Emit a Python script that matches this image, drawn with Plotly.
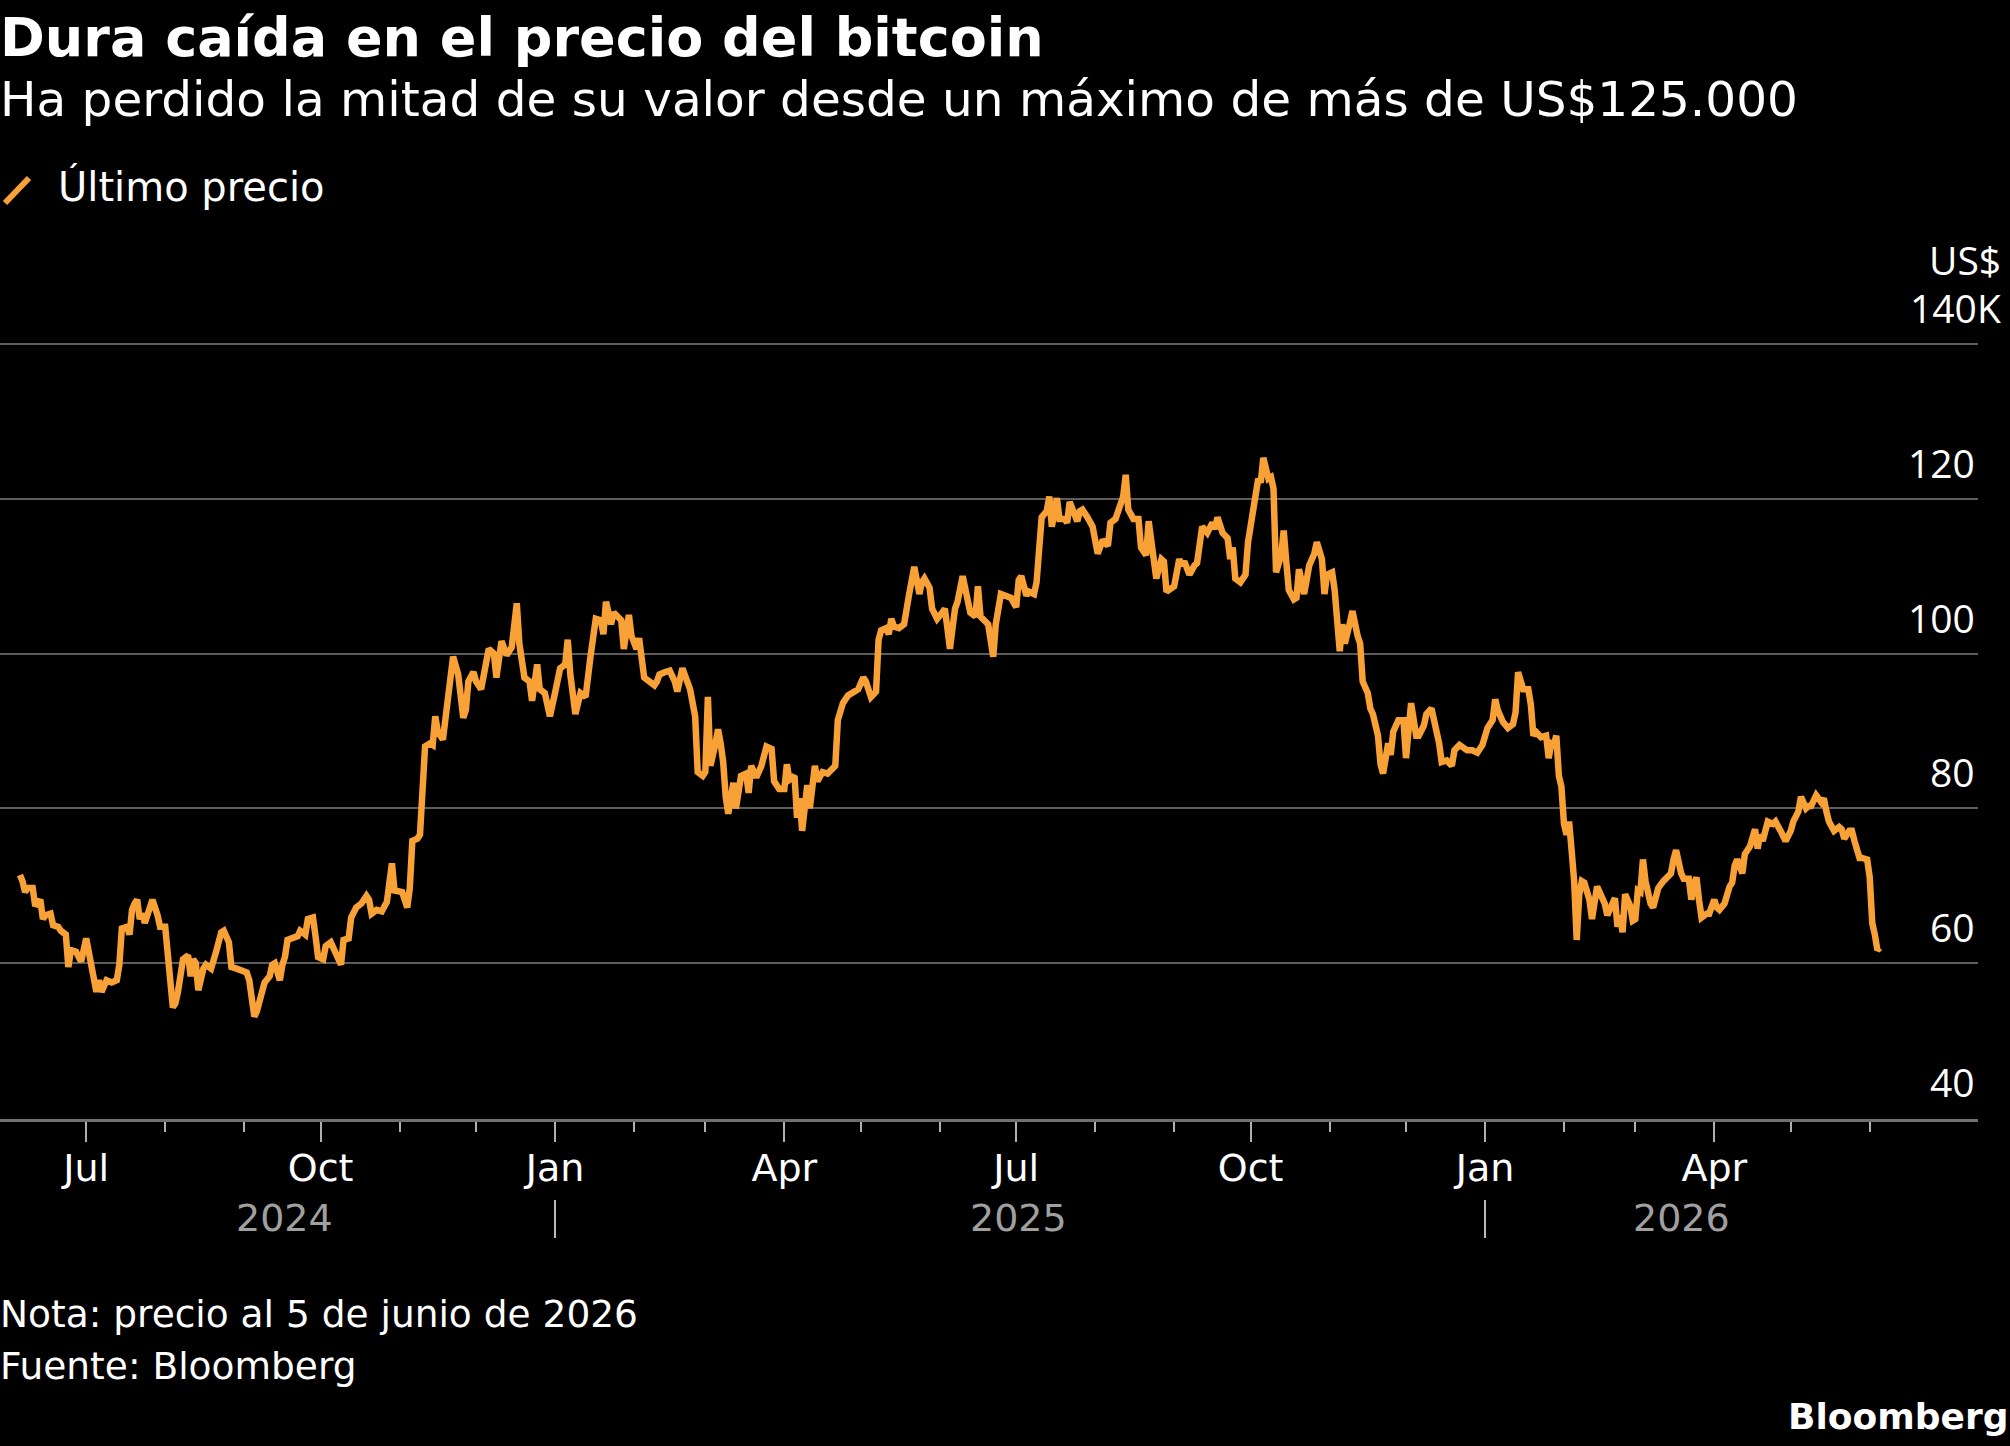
import plotly.graph_objects as go
from datetime import date

# ---------------- data (bitcoin last price, thousand US$) ----------------
dates_2024 = [
    "2024-06-05", "2024-06-06", "2024-06-07", "2024-06-08", "2024-06-10", "2024-06-11", "2024-06-13", "2024-06-14",
    "2024-06-15", "2024-06-17", "2024-06-18", "2024-06-20", "2024-06-21", "2024-06-23", "2024-06-24", "2024-06-25",
    "2024-06-27", "2024-06-29", "2024-07-01", "2024-07-03", "2024-07-05", "2024-07-06", "2024-07-07", "2024-07-09",
    "2024-07-11", "2024-07-13", "2024-07-14", "2024-07-15", "2024-07-17", "2024-07-18", "2024-07-19", "2024-07-20",
    "2024-07-21", "2024-07-22", "2024-07-23", "2024-07-24", "2024-07-26", "2024-07-27", "2024-07-29", "2024-07-30",
    "2024-08-01", "2024-08-02", "2024-08-03", "2024-08-04", "2024-08-05", "2024-08-06", "2024-08-08", "2024-08-10",
    "2024-08-11", "2024-08-12", "2024-08-13", "2024-08-14", "2024-08-16", "2024-08-17", "2024-08-19", "2024-08-20",
    "2024-08-21", "2024-08-23", "2024-08-24", "2024-08-26", "2024-08-27", "2024-08-29", "2024-08-31", "2024-09-02",
    "2024-09-03", "2024-09-04", "2024-09-05", "2024-09-06", "2024-09-08", "2024-09-09", "2024-09-11", "2024-09-12",
    "2024-09-13", "2024-09-15", "2024-09-16", "2024-09-17", "2024-09-18", "2024-09-20", "2024-09-22", "2024-09-23",
    "2024-09-25", "2024-09-26", "2024-09-28", "2024-09-29", "2024-09-30", "2024-10-02", "2024-10-03", "2024-10-05",
    "2024-10-06", "2024-10-08", "2024-10-09", "2024-10-10", "2024-10-12", "2024-10-13", "2024-10-15", "2024-10-17",
    "2024-10-19", "2024-10-20", "2024-10-21", "2024-10-23", "2024-10-25", "2024-10-27", "2024-10-28", "2024-10-29",
    "2024-10-30", "2024-11-02", "2024-11-04", "2024-11-05", "2024-11-06", "2024-11-08", "2024-11-09", "2024-11-10",
    "2024-11-11", "2024-11-13", "2024-11-14", "2024-11-15", "2024-11-16", "2024-11-18", "2024-11-19", "2024-11-20",
    "2024-11-22", "2024-11-24", "2024-11-26", "2024-11-27", "2024-11-28", "2024-11-30", "2024-12-01", "2024-12-03",
    "2024-12-04", "2024-12-06", "2024-12-08", "2024-12-09", "2024-12-11", "2024-12-13", "2024-12-15", "2024-12-16",
    "2024-12-17", "2024-12-18", "2024-12-20", "2024-12-22", "2024-12-23", "2024-12-25", "2024-12-26", "2024-12-28",
    "2024-12-30",
]
prices_2024 = [
    71.4, 70.6, 69.2, 69.7, 69.7, 67.4, 68.2, 65.7,
    66.2, 66.4, 64.9, 64.7, 64.2, 63.7, 59.5, 61.7,
    61.5, 60.2, 63.2, 59.3, 56.3, 57.8, 56.3, 57.8,
    57.5, 57.8, 59.8, 64.5, 64.7, 63.7, 66.9, 67.7,
    68.2, 65.7, 66.4, 65.2, 67.7, 68.2, 66.2, 64.7,
    64.7, 61.7, 58.8, 54.3, 54.8, 56.3, 60.5, 61.0,
    58.3, 60.5, 60.0, 56.5, 59.3, 59.8, 59.3, 60.2,
    61.5, 64.0, 64.2, 62.7, 59.5, 59.3, 59.0, 58.8,
    57.8, 55.8, 53.1, 53.8, 56.8, 57.5, 58.3, 59.8,
    60.0, 57.8, 59.8, 60.8, 63.0, 63.2, 63.5, 64.2,
    63.7, 65.7, 65.9, 63.5, 60.8, 60.5, 62.2, 62.7,
    62.0, 60.8, 59.8, 63.0, 63.2, 65.9, 67.2, 67.7,
    68.7, 68.2, 66.4, 66.9, 66.7, 67.9, 71.4, 72.9,
    69.4, 69.2, 67.2, 69.7, 75.8, 76.1, 76.6, 81.5,
    88.0, 88.4, 88.2, 91.9, 89.9, 88.9, 91.4, 94.4,
    99.6, 97.3, 91.7, 92.7, 96.4, 97.6, 96.4, 95.4,
    96.9, 100.6, 100.0, 96.9, 101.6, 99.8, 100.8, 103.3,
    106.5, 101.3, 96.9, 96.4, 93.9, 98.6, 95.4, 94.9,
    91.9,
]

dates_2025 = [
    "2025-01-01", "2025-01-03", "2025-01-05", "2025-01-06", "2025-01-07", "2025-01-09", "2025-01-11", "2025-01-13",
    "2025-01-15", "2025-01-17", "2025-01-19", "2025-01-20", "2025-01-21", "2025-01-23", "2025-01-24", "2025-01-25",
    "2025-01-27", "2025-01-28", "2025-01-29", "2025-01-30", "2025-01-31", "2025-02-02", "2025-02-03", "2025-02-05",
    "2025-02-07", "2025-02-09", "2025-02-10", "2025-02-11", "2025-02-13", "2025-02-15", "2025-02-17", "2025-02-18",
    "2025-02-20", "2025-02-22", "2025-02-23", "2025-02-25", "2025-02-26", "2025-02-28", "2025-03-01", "2025-03-02",
    "2025-03-03", "2025-03-05", "2025-03-06", "2025-03-07", "2025-03-08", "2025-03-09", "2025-03-10", "2025-03-12",
    "2025-03-13", "2025-03-15", "2025-03-17", "2025-03-18", "2025-03-19", "2025-03-21", "2025-03-23", "2025-03-25",
    "2025-03-27", "2025-03-28", "2025-03-30", "2025-04-01", "2025-04-02", "2025-04-03", "2025-04-05", "2025-04-06",
    "2025-04-07", "2025-04-08", "2025-04-10", "2025-04-11", "2025-04-13", "2025-04-14", "2025-04-16", "2025-04-18",
    "2025-04-20", "2025-04-21", "2025-04-22", "2025-04-24", "2025-04-26", "2025-04-28", "2025-04-30", "2025-05-02",
    "2025-05-03", "2025-05-05", "2025-05-07", "2025-05-08", "2025-05-09", "2025-05-11", "2025-05-12", "2025-05-13",
    "2025-05-14", "2025-05-16", "2025-05-18", "2025-05-20", "2025-05-22", "2025-05-24", "2025-05-25", "2025-05-26",
    "2025-05-28", "2025-05-29", "2025-05-31", "2025-06-02", "2025-06-03", "2025-06-04", "2025-06-05", "2025-06-07",
    "2025-06-08", "2025-06-10", "2025-06-11", "2025-06-13", "2025-06-15", "2025-06-16", "2025-06-17", "2025-06-19",
    "2025-06-20", "2025-06-22", "2025-06-23", "2025-06-25", "2025-06-27", "2025-06-29", "2025-07-01", "2025-07-02",
    "2025-07-03", "2025-07-05", "2025-07-06", "2025-07-08", "2025-07-09", "2025-07-11", "2025-07-13", "2025-07-14",
    "2025-07-15", "2025-07-17", "2025-07-18", "2025-07-20", "2025-07-21", "2025-07-22", "2025-07-24", "2025-07-25",
    "2025-07-26", "2025-07-27", "2025-07-29", "2025-07-31", "2025-08-02", "2025-08-04", "2025-08-06", "2025-08-07",
    "2025-08-09", "2025-08-11", "2025-08-12", "2025-08-13", "2025-08-14", "2025-08-16", "2025-08-18", "2025-08-19",
    "2025-08-21", "2025-08-22", "2025-08-24", "2025-08-25", "2025-08-27", "2025-08-28", "2025-08-29", "2025-08-31",
    "2025-09-01", "2025-09-03", "2025-09-04", "2025-09-05", "2025-09-07", "2025-09-09", "2025-09-10", "2025-09-12",
    "2025-09-14", "2025-09-16", "2025-09-17", "2025-09-18", "2025-09-20", "2025-09-22", "2025-09-23", "2025-09-24",
    "2025-09-25", "2025-09-27", "2025-09-29", "2025-09-30", "2025-10-02", "2025-10-04", "2025-10-05", "2025-10-06",
    "2025-10-08", "2025-10-09", "2025-10-10", "2025-10-11", "2025-10-13", "2025-10-14", "2025-10-15", "2025-10-16",
    "2025-10-18", "2025-10-19", "2025-10-20", "2025-10-22", "2025-10-23", "2025-10-24", "2025-10-26", "2025-10-27",
    "2025-10-29", "2025-10-30", "2025-10-31", "2025-11-02", "2025-11-03", "2025-11-04", "2025-11-05", "2025-11-06",
    "2025-11-07", "2025-11-09", "2025-11-10", "2025-11-12", "2025-11-13", "2025-11-14", "2025-11-16", "2025-11-17",
    "2025-11-18", "2025-11-20", "2025-11-21", "2025-11-22", "2025-11-24", "2025-11-25", "2025-11-26", "2025-11-28",
    "2025-11-30", "2025-12-01", "2025-12-02", "2025-12-03", "2025-12-05", "2025-12-06", "2025-12-08", "2025-12-09",
    "2025-12-11", "2025-12-13", "2025-12-14", "2025-12-15", "2025-12-17", "2025-12-19", "2025-12-20", "2025-12-22",
    "2025-12-23", "2025-12-25", "2025-12-27", "2025-12-29", "2025-12-31",
]
prices_2025 = [
    94.9, 98.1, 98.6, 101.8, 97.3, 92.2, 94.9, 94.4,
    99.8, 104.5, 104.3, 102.5, 106.7, 103.8, 105.3, 105.0,
    104.3, 100.6, 102.8, 105.0, 102.3, 100.6, 102.0, 96.9,
    96.4, 95.9, 96.4, 97.3, 97.6, 97.8, 96.4, 95.1,
    98.1, 96.4, 95.4, 91.9, 84.7, 84.2, 84.7, 94.4,
    85.5, 88.4, 90.2, 88.4, 86.0, 81.5, 79.3, 83.3,
    80.0, 84.2, 84.5, 82.0, 85.5, 84.0, 85.5, 88.0,
    87.7, 83.5, 82.5, 82.5, 85.7, 83.7, 84.2, 78.8,
    81.3, 77.1, 83.0, 80.0, 85.5, 83.5, 84.7, 84.5,
    85.2, 85.5, 91.4, 93.6, 94.6, 94.9, 95.4, 96.9,
    96.4, 94.4, 95.1, 101.8, 103.0, 103.3, 102.5, 104.5,
    103.5, 103.3, 103.8, 107.7, 111.2, 107.7, 109.2, 109.7,
    108.5, 105.8, 104.5, 105.3, 105.8, 103.3, 100.6, 105.8,
    106.7, 110.0, 108.7, 105.3, 104.8, 108.7, 104.8, 104.3,
    103.8, 99.6, 103.8, 107.7, 107.5, 107.2, 106.0, 109.5,
    110.0, 107.5, 108.0, 107.7, 109.2, 117.6, 118.4, 120.3,
    116.4, 120.1, 117.4, 117.4, 116.9, 119.6, 117.9, 117.1,
    118.4, 118.6, 117.6, 116.4, 112.9, 114.7, 113.9, 116.9,
    117.4, 119.1, 120.3, 123.1, 118.6, 117.4, 117.4, 113.7,
    112.7, 117.1, 112.7, 109.7, 112.2, 111.9, 108.0, 108.5,
    108.7, 112.2, 111.4, 111.9, 110.2, 111.4, 111.7, 116.4,
    115.6, 116.9, 116.1, 117.6, 115.6, 114.9, 112.2, 113.7,
    109.7, 109.2, 110.2, 114.4, 119.1, 122.6, 122.1, 125.3,
    122.6, 122.8, 121.3, 110.5, 112.7, 115.9, 111.9, 108.2,
    107.0, 107.2, 110.9, 107.7, 109.5, 111.4, 112.9, 114.4,
    112.2, 107.7, 110.2, 110.5, 108.2, 103.3, 100.3, 103.8,
    101.3, 104.0, 105.5, 102.3, 101.3, 96.4, 94.9, 92.9,
    92.2, 89.4, 85.7, 84.5, 88.4, 86.9, 89.9, 91.4,
    91.4, 86.5, 90.4, 93.6, 89.4, 89.4, 90.7, 92.2,
    92.9, 90.4, 88.4, 86.0, 86.2, 85.5, 87.5, 88.2,
    88.0, 87.5, 87.5, 87.2, 88.2,
]

dates_2026 = [
    "2026-01-01", "2026-01-02", "2026-01-04", "2026-01-05", "2026-01-06", "2026-01-08", "2026-01-10", "2026-01-12",
    "2026-01-13", "2026-01-14", "2026-01-16", "2026-01-18", "2026-01-19", "2026-01-20", "2026-01-21", "2026-01-23",
    "2026-01-25", "2026-01-26", "2026-01-27", "2026-01-28", "2026-01-29", "2026-01-30", "2026-01-31", "2026-02-01",
    "2026-02-02", "2026-02-03", "2026-02-04", "2026-02-05", "2026-02-06", "2026-02-07", "2026-02-08", "2026-02-09",
    "2026-02-11", "2026-02-12", "2026-02-14", "2026-02-15", "2026-02-17", "2026-02-18", "2026-02-20", "2026-02-21",
    "2026-02-22", "2026-02-23", "2026-02-24", "2026-02-25", "2026-02-27", "2026-02-28", "2026-03-01", "2026-03-02",
    "2026-03-03", "2026-03-04", "2026-03-05", "2026-03-07", "2026-03-08", "2026-03-10", "2026-03-12", "2026-03-13",
    "2026-03-15", "2026-03-16", "2026-03-17", "2026-03-19", "2026-03-20", "2026-03-22", "2026-03-23", "2026-03-24",
    "2026-03-25", "2026-03-26", "2026-03-27", "2026-03-29", "2026-03-30", "2026-04-01", "2026-04-02", "2026-04-03",
    "2026-04-05", "2026-04-07", "2026-04-08", "2026-04-09", "2026-04-10", "2026-04-12", "2026-04-13", "2026-04-15",
    "2026-04-17", "2026-04-18", "2026-04-19", "2026-04-20", "2026-04-22", "2026-04-24", "2026-04-25", "2026-04-27",
    "2026-04-29", "2026-05-01", "2026-05-02", "2026-05-04", "2026-05-05", "2026-05-07", "2026-05-08", "2026-05-09",
    "2026-05-11", "2026-05-13", "2026-05-14", "2026-05-15", "2026-05-16", "2026-05-18", "2026-05-20", "2026-05-21",
    "2026-05-22", "2026-05-24", "2026-05-25", "2026-05-26", "2026-05-28", "2026-05-29", "2026-05-31", "2026-06-01",
    "2026-06-02", "2026-06-03", "2026-06-04", "2026-06-05",
]
prices_2026 = [
    89.2, 90.4, 91.4, 94.1, 92.7, 91.2, 90.4, 90.9,
    92.4, 97.6, 95.4, 95.4, 93.4, 89.4, 89.9, 89.2,
    89.4, 86.5, 88.4, 88.2, 89.4, 84.2, 82.8, 78.0,
    76.6, 78.3, 74.6, 70.6, 63.0, 68.9, 70.6, 70.4,
    68.2, 65.7, 69.9, 69.2, 67.7, 66.2, 67.4, 68.4,
    64.7, 66.2, 64.0, 68.9, 67.4, 65.5, 65.7, 69.4,
    69.2, 73.4, 70.6, 67.7, 67.2, 69.7, 70.6, 70.9,
    71.6, 73.4, 74.6, 71.6, 70.9, 70.9, 68.2, 70.1,
    71.1, 68.2, 65.9, 66.4, 66.4, 68.2, 67.2, 66.9,
    67.7, 69.9, 70.4, 72.6, 73.4, 71.6, 74.1, 75.1,
    77.3, 74.8, 76.6, 75.8, 78.3, 78.0, 78.3, 77.1,
    75.8, 77.1, 78.3, 79.6, 81.5, 80.0, 80.3, 80.3,
    81.7, 80.8, 81.3, 79.6, 78.3, 77.1, 77.6, 77.3,
    76.1, 77.1, 77.1, 75.8, 73.6, 73.6, 73.4, 71.1,
    65.2, 63.7, 61.7, 62.0,
]

# axis ticks / labels
major_ticks = ["2024-07-01", "2024-10-01", "2025-01-01", "2025-04-01",
               "2025-07-01", "2025-10-01", "2026-01-01", "2026-04-01"]
major_labels = ["Jul", "Oct", "Jan", "Apr", "Jul", "Oct", "Jan", "Apr"]
minor_ticks = ["2024-08-01", "2024-09-01", "2024-11-01", "2024-12-01",
               "2025-02-01", "2025-03-01", "2025-05-01", "2025-06-01",
               "2025-08-01", "2025-09-01", "2025-11-01", "2025-12-01",
               "2026-02-01", "2026-03-01", "2026-05-01", "2026-06-01"]
year_breaks = ["2025-01-01", "2026-01-01"]
years = ["2024", "2025", "2026"]
y_ticks = [40, 60, 80, 100, 120, 140]
y_labels = ["40", "60", "80", "100", "120", "140K"]

dates = dates_2024 + dates_2025 + dates_2026
prices = prices_2024 + prices_2025 + prices_2026
year_dates = {"2024": dates_2024, "2025": dates_2025, "2026": dates_2026}

# ---------------- styling ----------------
W, H = 2010, 1446
PLOT_L, PLOT_R, PLOT_T, PLOT_B = 0, 1978, 330, 1119
BG = "#000000"
ORANGE = "#F8A136"
GRID = "#5C5C5C"
WHITE = "#FFFFFF"
GREY = "#A0A0A0"
FONT = "DejaVu Sans"
NUM_FONT = "Open Sans"


def px(x):
    return (x - PLOT_L) / (PLOT_R - PLOT_L)


def py(y):
    return (PLOT_B - y) / (PLOT_B - PLOT_T)


unit = 774 / 100.0  # px per thousand
y_range = [40 - (PLOT_B - 1118) / unit, 140 + (344 - PLOT_T) / unit]

fig = go.Figure()
fig.add_trace(go.Scatter(
    x=dates, y=prices, mode="lines",
    line=dict(color=ORANGE, width=6.5),
    hoverinfo="skip", showlegend=False,
))

annotations = []
# title, subtitle
annotations.append(dict(text="Dura caída en el precio del bitcoin", x=px(-2), y=py(4),
                        xanchor="left", yanchor="top",
                        font=dict(family=FONT, size=54, color=WHITE, weight="bold")))
annotations.append(dict(text="Ha perdido la mitad de su valor desde un máximo de más de US$125.000",
                        x=px(-2), y=py(69), xanchor="left", yanchor="top",
                        font=dict(family=FONT, size=48.5, color=WHITE)))
# legend text
annotations.append(dict(text="Último precio", x=px(56), y=py(161), xanchor="left", yanchor="top",
                        font=dict(family=FONT, size=40, color=WHITE)))
# y labels
for v, lab in zip(y_ticks, y_labels):
    xr = 1977 if not lab.endswith("K") else 2003
    annotations.append(dict(text=lab, xref="paper", yref="y", x=px(xr), y=v,
                            xanchor="right", yanchor="bottom", yshift=8,
                            font=dict(family=NUM_FONT, size=39, color=WHITE)))
annotations.append(dict(text="US$", xref="paper", yref="y", x=px(2003), y=140,
                        xanchor="right", yanchor="bottom", yshift=56,
                        font=dict(family=NUM_FONT, size=39, color=WHITE)))
# year labels centred under each year's data span
for yr in years:
    ds = year_dates[yr]
    d0 = date.fromisoformat(ds[0])
    d1 = date.fromisoformat(ds[-1])
    mid = d0 + (d1 - d0) / 2
    annotations.append(dict(text=yr, xref="x", yref="paper", x=mid.isoformat(), y=py(1194),
                            xanchor="center", yanchor="top",
                            font=dict(family=FONT, size=38, color=GREY)))
# footnotes
annotations.append(dict(text="Nota: precio al 5 de junio de 2026", x=px(-2), y=py(1290),
                        xanchor="left", yanchor="top", font=dict(family=FONT, size=37.5, color=WHITE)))
annotations.append(dict(text="Fuente: Bloomberg", x=px(-2), y=py(1342),
                        xanchor="left", yanchor="top", font=dict(family=FONT, size=37.5, color=WHITE)))
annotations.append(dict(text="Bloomberg", x=px(2010), y=py(1394), xanchor="right", yanchor="top",
                        font=dict(family=FONT, size=36, color=WHITE, weight="bold")))
for a in annotations:
    a.setdefault("xref", "paper")
    a.setdefault("yref", "paper")
    a["showarrow"] = False

shapes = []
# legend swatch (diagonal stroke)
shapes.append(dict(type="line", xref="paper", yref="paper",
                   x0=px(5), y0=py(203), x1=px(29), y1=py(178),
                   line=dict(color=ORANGE, width=6)))
# year separators
for yb in year_breaks:
    shapes.append(dict(type="line", xref="x", yref="paper", x0=yb, x1=yb,
                       y0=py(1238), y1=py(1200), line=dict(color="#BBBBBB", width=2)))

fig.update_layout(
    width=W, height=H,
    paper_bgcolor=BG, plot_bgcolor=BG,
    margin=dict(l=PLOT_L, r=W - PLOT_R, t=PLOT_T, b=H - PLOT_B, pad=0),
    annotations=annotations, shapes=shapes,
    showlegend=False,
    xaxis=dict(
        type="date",
        range=["2024-05-28 04:00", "2026-07-13 12:00"],
        tickmode="array", tickvals=major_ticks, ticktext=major_labels,
        ticks="outside", ticklen=20, tickwidth=2, tickcolor="#B0B0B0",
        ticklabelstandoff=-7,
        tickfont=dict(family=FONT, size=38, color=WHITE),
        minor=dict(tickmode="array", tickvals=minor_ticks, ticks="outside",
                   ticklen=10, tickwidth=2, tickcolor="#B0B0B0", showgrid=False),
        showgrid=False, zeroline=False,
        showline=True, linecolor="#707070", linewidth=3,
        fixedrange=True,
    ),
    yaxis=dict(
        range=y_range,
        tickmode="array", tickvals=y_ticks, showticklabels=False,
        ticks="", showgrid=True, gridcolor=GRID, gridwidth=2,
        zeroline=False, showline=False, fixedrange=True,
    ),
)

fig.write_html("out.html", config={"displayModeBar": False})
